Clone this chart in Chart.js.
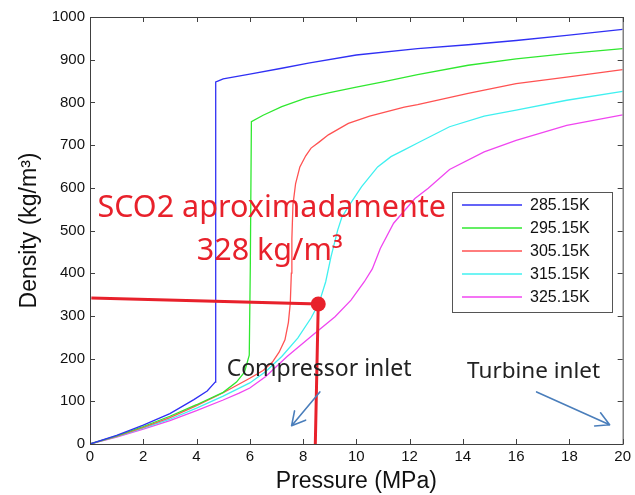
<!DOCTYPE html>
<html>
<head>
<meta charset="utf-8">
<script src="https://cdn.jsdelivr.net/npm/chart.js@4.4.1/dist/chart.umd.min.js"></script>
<style>
  body { margin: 0; background: #fff; }
  #wrap { width: 635px; height: 495px; }
</style>
</head>
<body>
<div id="wrap"><canvas id="density-chart" width="635" height="495"></canvas></div>
<script>
// CO2 isotherms: density (kg/m3) against pressure (MPa)
const temps = ['285.15K', '295.15K', '305.15K', '315.15K', '325.15K'];
const colors = ['#3030f4', '#30e830', '#ff5252', '#40f0f0', '#f046f0'];

const p285 = [0, 1, 2, 3, 3.9, 4.4, 4.7, 4.72, 4.8, 5, 6, 7.2, 8.2, 10, 12.3, 14.2, 16, 17.9, 20];
const d285 = [0, 20, 44, 71, 104, 124, 145, 848, 850, 855, 866, 880, 892, 911, 926, 935, 945, 957, 971];

const p295 = [0, 1, 2, 3, 4, 5, 5.5, 5.8, 5.98, 6.02, 6.06, 6.5, 7.2, 8.1, 9, 10, 11, 12.3, 14.2, 16, 17.9, 20];
const d295 = [0, 19, 41, 65, 92, 121, 145, 168, 208, 420, 755, 770, 790, 810, 823, 836, 848, 865, 887, 902, 914, 926];

const p305 = [0, 1, 2, 3, 4, 5, 6, 6.5, 6.85, 7.1, 7.32, 7.45, 7.52, 7.56, 7.58, 7.62, 7.72, 7.88, 8.1, 8.3, 8.6, 8.95, 9.7, 10.5, 11.8, 12.3, 14.2, 16, 17.9, 20];
const d305 = [0, 18, 39, 62, 90, 120, 154, 172, 192, 215, 244, 285, 330, 400, 480, 560, 610, 649, 675, 693, 707, 724, 751, 768, 789, 795, 821, 844, 859, 877];

const p315 = [0, 1, 2, 3, 4, 5, 6, 6.6, 7.2, 7.8, 8.3, 8.6, 8.85, 9.05, 9.3, 9.45, 9.7, 10.2, 10.8, 11.3, 11.8, 12.3, 13.5, 14.8, 16, 17.9, 20];
const d315 = [0, 17, 37, 58, 84, 112, 143, 170, 205, 248, 295, 330, 380, 439, 501, 530, 556, 603, 649, 673, 689, 705, 743, 768, 782, 805, 826];

const p325 = [0, 1, 2, 3, 4, 5, 5.6, 6, 6.6, 7.4, 8.4, 9.2, 9.8, 10.3, 10.6, 10.9, 11.4, 12.2, 12.7, 13.5, 14.8, 16, 17.9, 20];
const d325 = [0, 16, 35, 55, 78, 103, 119, 131, 158, 205, 257, 298, 337, 380, 410, 458, 517, 575, 599, 643, 684, 711, 746, 771];

// compressor inlet marker and its guide lines
const markP = 8.57, markD = 328;
const guideP = [0.05, markP, 8.46];
const guideD = [342, markD, 0];

// text notes, anchored at [pressure, density] of their left baseline
const notes = [
  { text: 'SCO2 aproximadamente', at: [0.28, 532], color: '#e8212b', font: '30.5px "Noto Sans"' },
  { text: '328 kg/m\u00b3', at: [4.01, 431], color: '#e8212b', font: '30.5px "Noto Sans"' },
  { text: 'Compressor inlet', at: [5.13, 159], color: '#222', font: '23px "Noto Sans"' },
  { text: 'Turbine inlet', at: [14.16, 154], color: '#222', font: '22.5px "Noto Sans"' }
];
// arrows as [fromP, fromD, toP, toD]
const arrows = [
  [8.63, 122, 7.57, 43],
  [16.77, 122, 19.51, 45]
];

const red = '#e8212b';
const toPoints = (p, d) => p.map((x, i) => ({ x, y: d[i] }));
const curves = [[p285, d285], [p295, d295], [p305, d305], [p315, d315], [p325, d325]];

const datasets = [
  { label: 'guide', data: toPoints(guideP, guideD), showLine: true, borderColor: red, borderWidth: 3,
    pointRadius: 0, order: 0 },
  { label: 'mark', data: [{ x: markP, y: markD }], pointRadius: 7.5, backgroundColor: red,
    borderWidth: 0, order: 0 }
].concat(curves.map((c, i) => ({
  label: temps[i],
  data: toPoints(c[0], c[1]),
  showLine: true,
  borderColor: colors[i],
  borderWidth: 1.3,
  pointRadius: 0,
  tension: 0,
  order: 1
})));

const notesPlugin = {
  id: 'notes',
  afterDatasetsDraw(chart) {
    const { ctx, scales: { x, y } } = chart;
    ctx.save();
    notes.forEach(n => {
      ctx.font = n.font;
      ctx.fillStyle = n.color;
      ctx.textBaseline = 'alphabetic';
      ctx.fillText(n.text, x.getPixelForValue(n.at[0]), y.getPixelForValue(n.at[1]));
    });
    ctx.strokeStyle = '#4a7ebb';
    ctx.lineWidth = 1.6;
    ctx.lineCap = 'round';
    arrows.forEach(a => {
      const x0 = x.getPixelForValue(a[0]), y0 = y.getPixelForValue(a[1]);
      const x1 = x.getPixelForValue(a[2]), y1 = y.getPixelForValue(a[3]);
      const ang = Math.atan2(y1 - y0, x1 - x0);
      ctx.beginPath();
      ctx.moveTo(x0, y0);
      ctx.lineTo(x1, y1);
      [-0.5, 0.5].forEach(da => {
        ctx.moveTo(x1, y1);
        ctx.lineTo(x1 - 15 * Math.cos(ang + da), y1 - 15 * Math.sin(ang + da));
      });
      ctx.stroke();
    });
    ctx.restore();
  },
  afterDraw(chart) {
    const { ctx, chartArea: a, scales: { x, y } } = chart;
    ctx.save();
    // axes box with inward ticks on all four sides
    ctx.strokeStyle = '#404040';
    ctx.lineWidth = 1;
    ctx.strokeRect(a.left + 0.5, a.top + 0.5, a.right - a.left, a.bottom - a.top);
    ctx.beginPath();
    x.ticks.forEach(t => {
      const px = Math.round(x.getPixelForValue(t.value)) + 0.5;
      ctx.moveTo(px, a.bottom); ctx.lineTo(px, a.bottom - 5);
      ctx.moveTo(px, a.top); ctx.lineTo(px, a.top + 5);
    });
    y.ticks.forEach(t => {
      const py = Math.round(y.getPixelForValue(t.value)) + 0.5;
      ctx.moveTo(a.left, py); ctx.lineTo(a.left + 5, py);
      ctx.moveTo(a.right, py); ctx.lineTo(a.right - 5, py);
    });
    ctx.stroke();

    // legend box
    const lx = 452, ly = 192, lw = 160, lh = 120;
    ctx.fillStyle = '#fff';
    ctx.fillRect(lx, ly, lw, lh);
    ctx.strokeStyle = '#555';
    ctx.strokeRect(lx + 0.5, ly + 0.5, lw, lh);
    ctx.font = '16px Arial';
    ctx.textBaseline = 'middle';
    chart.data.datasets.filter(d => temps.includes(d.label)).forEach((d, i) => {
      const ry = ly + 13 + i * 23;
      ctx.strokeStyle = d.borderColor;
      ctx.lineWidth = 1.5;
      ctx.beginPath();
      ctx.moveTo(lx + 10, ry); ctx.lineTo(lx + 70, ry);
      ctx.stroke();
      ctx.fillStyle = '#111';
      ctx.fillText(d.label, lx + 78, ry + 1);
    });
    ctx.restore();
  }
};

new Chart(document.getElementById('density-chart'), {
  type: 'scatter',
  data: { datasets },
  options: {
    responsive: false,
    animation: false,
    layout: { padding: { top: 17, right: 9, left: 0, bottom: 0 } },
    plugins: { legend: { display: false }, tooltip: { enabled: false } },
    scales: {
      x: {
        type: 'linear', min: 0, max: 20,
        ticks: { stepSize: 2, color: '#111', font: { family: 'Arial', size: 15 }, padding: 4, maxRotation: 0,
                 callback: v => String(v) },
        grid: { display: false, drawTicks: false },
        border: { display: false },
        title: { display: true, text: 'Pressure (MPa)', color: '#111',
                 font: { family: 'Arial', size: 23 }, padding: { top: 0, bottom: 0 } },
        afterFit: s => { s.height = 51; }
      },
      y: {
        type: 'linear', min: 0, max: 1000,
        ticks: { stepSize: 100, color: '#111', font: { family: 'Arial', size: 15 }, padding: 5,
                 callback: v => String(v) },
        grid: { display: false, drawTicks: false },
        border: { display: false },
        title: { display: true, text: 'Density (kg/m\u00b3)', color: '#111',
                 font: { family: 'Arial', size: 23 }, padding: { top: 16, bottom: 0 } },
        afterFit: s => { s.width = 90; }
      }
    }
  },
  plugins: [notesPlugin]
});
</script>
</body>
</html>
